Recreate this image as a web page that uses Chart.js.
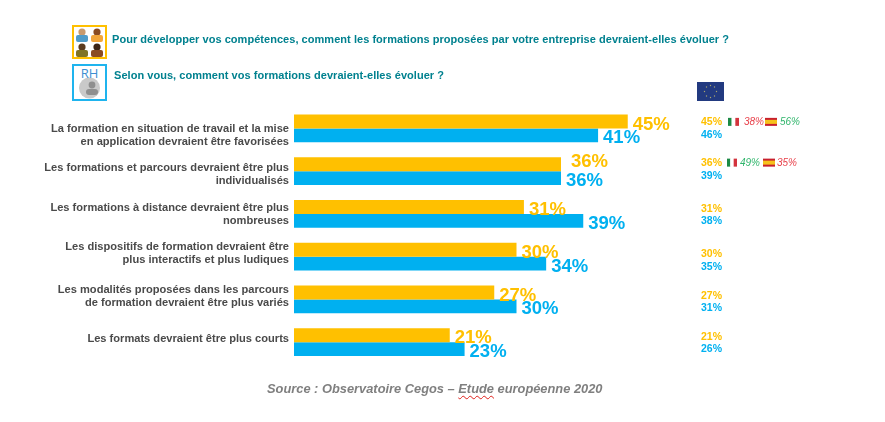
<!DOCTYPE html>
<html>
<head>
<meta charset="utf-8">
<script src="https://cdn.jsdelivr.net/npm/chart.js@4/dist/chart.umd.js"></script>
<style>
  html, body { margin: 0; padding: 0; background: #fff; }
  body { width: 885px; height: 422px; position: relative; overflow: hidden; font-family: "Liberation Sans", Arial, sans-serif; }
  canvas { position: absolute; left: 0; top: 0; }
  .question { position: absolute; font-size: 11px; font-weight: bold; color: #00818f; white-space: nowrap; letter-spacing: 0.04px; }
  .icon { position: absolute; left: 72px; width: 31px; box-sizing: content-box; border-style: solid; border-width: 2px; background: #fff; }
  #source { position: absolute; left: 267px; top: 381px; font-size: 12.85px; font-weight: bold; font-style: italic; color: #7f7f7f; white-space: nowrap; }
  #source span { text-decoration: underline wavy #e0201b 1px; text-underline-offset: 2px; }
  svg { position: absolute; display: block; }
</style>
</head>
<body>
<canvas id="chart" width="885" height="422"></canvas>

<div class="icon" style="top:25px;height:30px;border-color:#ffc000">
  <svg width="31" height="30" viewBox="0 0 31 30">
    <circle cx="8" cy="5" r="3.6" fill="#c89a6e"/><rect x="2" y="8" width="12" height="7" rx="2" fill="#4f9bc9"/>
    <circle cx="23" cy="5" r="3.6" fill="#8a4b22"/><rect x="17" y="8" width="12" height="7" rx="2" fill="#f2a53a"/>
    <circle cx="8" cy="20" r="3.6" fill="#5b3a1e"/><rect x="2" y="23" width="12" height="7" rx="2" fill="#7f7326"/>
    <circle cx="23" cy="20" r="3.6" fill="#3c2415"/><rect x="17" y="23" width="12" height="7" rx="2" fill="#8a4b22"/>
  </svg>
</div>
<div class="icon" style="top:64px;height:33px;border-color:#1fb4ee">
  <svg width="31" height="33" viewBox="0 0 31 33">
    <circle cx="15.5" cy="22" r="10.5" fill="#c9c9c9"/>
    <circle cx="18" cy="19" r="3.4" fill="#8f8f8f"/><rect x="12" y="23" width="12" height="6" rx="3" fill="#8f8f8f"/>
  </svg>
  <div style="position:absolute;left:0;top:-2px;width:31px;text-align:center;font-size:13px;color:#3d8fd1;font-family:'Open Sans',sans-serif">RH</div>
</div>

<div class="question" style="left:112px;top:33px">Pour développer vos compétences, comment les formations proposées par votre entreprise devraient-elles évoluer ?</div>
<div class="question" style="left:114px;top:69px">Selon vous, comment vos formations devraient-elles évoluer ?</div>

<svg style="left:697px;top:82px" width="27" height="19" viewBox="0 0 27 19">
  <rect width="27" height="19" fill="#223a80"/>
  <g fill="#a9a56e">
    <circle cx="13.5" cy="3.5" r="0.7"/><circle cx="17.5" cy="5" r="0.7"/><circle cx="19.5" cy="9.5" r="0.7"/>
    <circle cx="17.5" cy="14" r="0.7"/><circle cx="13.5" cy="15.5" r="0.7"/><circle cx="9.5" cy="14" r="0.7"/>
    <circle cx="7.5" cy="9.5" r="0.7"/><circle cx="9.5" cy="5" r="0.7"/>
  </g>
</svg>

<div id="source">Source : Observatoire Cegos – <span>Etude</span> européenne 2020</div>

<script>
const categories = [
  ['La formation en situation de travail et la mise', 'en application devraient être favorisées'],
  ['Les formations et parcours devraient être plus', 'individualisés'],
  ['Les formations à distance devraient être plus', 'nombreuses'],
  ['Les dispositifs de formation devraient être', 'plus interactifs et plus ludiques'],
  ['Les modalités proposées dans les parcours', 'de formation devraient être plus variés'],
  ['Les formats devraient être plus courts']
];
const salaries = [45, 36, 31, 30, 27, 21];
const rh = [41, 36, 39, 34, 30, 23];
const euSalaries = [45, 36, 31, 30, 27, 21];
const euRh = [46, 39, 38, 35, 31, 26];
const italy = [38, 49];
const spain = [56, 35];

const YELLOW = '#ffc000';
const BLUE = '#00b0f0';
const RED = '#e8404a';
const GREEN = '#2fb56b';

const drawFlag = (c, x, y, w, h, type) => {
  if (type === 'it') {
    c.fillStyle = '#1c8a45'; c.fillRect(x, y, w / 3, h);
    c.fillStyle = '#ffffff'; c.fillRect(x + w / 3, y, w / 3, h);
    c.fillStyle = '#d3333d'; c.fillRect(x + 2 * w / 3, y, w / 3, h);
  } else {
    c.fillStyle = '#c8202c'; c.fillRect(x, y, w, h);
    c.fillStyle = '#f6c21c'; c.fillRect(x, y + h / 4, w, h / 2);
  }
};

// category text, pour % at bar end, EU column and country notes
const sidePlugin = {
  id: 'side',
  afterDatasetsDraw(chart) {
    const c = chart.ctx;
    const yScale = chart.scales.y;
    c.save();
    c.textBaseline = 'middle';

    // the labels do not sit centred on their bars in the original
    const labelShift = [7, 3.5, 0.5, -3, -3, -3];
    c.textAlign = 'right';
    c.fillStyle = '#4a4a4a';
    c.font = 'bold 11.1px "Liberation Sans", Arial, sans-serif';
    categories.forEach((lines, i) => {
      const mid = yScale.getPixelForValue(i) + labelShift[i];
      lines.forEach((line, k) => {
        c.fillText(line, 289, mid + (k - (lines.length - 1) / 2) * 13.5);
      });
    });

    c.textAlign = 'left';
    c.font = 'bold 18.5px "Liberation Sans", Arial, sans-serif';
    chart.data.datasets.forEach((ds, i) => {
      c.fillStyle = ds.backgroundColor;
      chart.getDatasetMeta(i).data.forEach((bar, j) => {
        const raised = i === 0 && j === 1;
        c.fillText(ds.data[j] + '%', bar.x + (raised ? 10 : 5), bar.y + (raised ? -2 : 3));
      });
    });

    const euShift = [0, -2, 1, 3.5, 2.5, 0.5];
    c.font = 'bold 10.5px "Liberation Sans", Arial, sans-serif';
    categories.forEach((_, i) => {
      const y = yScale.getPixelForValue(i) + euShift[i];
      c.fillStyle = YELLOW;
      c.fillText(euSalaries[i] + '%', 701, y - 6);
      c.fillStyle = BLUE;
      c.fillText(euRh[i] + '%', 701, y + 6.5);
    });

    c.font = 'italic 10px "Liberation Sans", Arial, sans-serif';
    italy.forEach((v, i) => {
      const y = yScale.getPixelForValue(i) + euShift[i] - 6;
      const first = i === 0;
      drawFlag(c, first ? 728 : 727, y - 4.5, first ? 11 : 10, 8, 'it');
      c.fillStyle = v < 40 ? RED : GREEN;
      c.fillText(v + '%', first ? 744 : 740, y);
      drawFlag(c, first ? 765 : 763, y - 4.5, 12, 8, 'es');
      c.fillStyle = spain[i] < 40 ? RED : GREEN;
      c.fillText(spain[i] + '%', first ? 780 : 777, y);
    });
    c.restore();
  }
};

new Chart(document.getElementById('chart').getContext('2d'), {
  type: 'bar',
  data: {
    labels: categories,
    datasets: [
      { label: 'Salariés', data: salaries, backgroundColor: YELLOW },
      { label: 'RH', data: rh, backgroundColor: BLUE }
    ]
  },
  options: {
    indexAxis: 'y',
    responsive: false,
    animation: false,
    layout: { padding: { top: 107, bottom: 58.5, left: 294, right: 146 } },
    datasets: { bar: { categoryPercentage: 0.645, barPercentage: 1 } },
    plugins: { legend: { display: false }, tooltip: { enabled: false } },
    scales: {
      x: { display: false, min: 0, max: 60 },
      y: { display: false }
    }
  },
  plugins: [sidePlugin]
});
</script>
</body>
</html>
